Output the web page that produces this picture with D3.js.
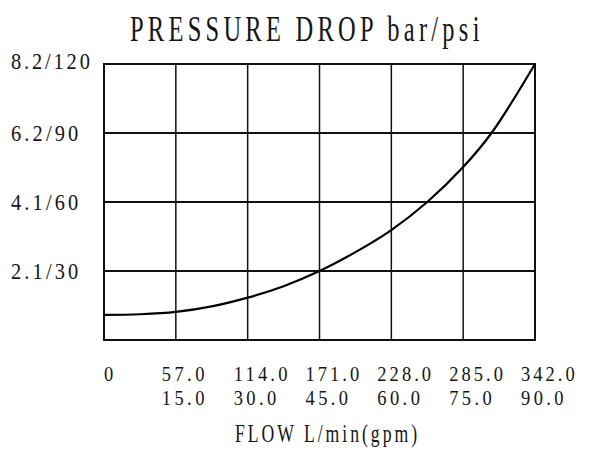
<!DOCTYPE html>
<html>
<head>
<meta charset="utf-8">
<script src="https://cdn.jsdelivr.net/npm/d3@7"></script>
<style>
  html, body { margin: 0; padding: 0; background: #fff; }
  svg { display: block; }
</style>
</head>
<body>
<script>
// ---- data ----
const flow = [0, 28.5, 57, 85.5, 114, 142.5, 171, 199.5, 228, 256.5, 285, 307.5, 342];
const pressurePsi = [10.9, 11.2, 12.2, 14.6, 18.4, 23.4, 30.0, 38.2, 47.8, 60, 75.2, 90, 120];
const xTicks = [0, 57, 114, 171, 228, 285, 342];
const xLabelsLmin = ["0", "57.0", "114.0", "171.0", "228.0", "285.0", "342.0"];
const xLabelsGpm = ["", "15.0", "30.0", "45.0", "60.0", "75.0", "90.0"];
const yTicks = [0, 30, 60, 90, 120];
const yLabels = ["", "2.1/30", "4.1/60", "6.2/90", "8.2/120"];
const titleText = "PRESSURE DROP bar/psi";
const xTitleText = "FLOW L/min(gpm)";

// ---- layout ----
const W = 602, H = 449;
const svg = d3.select("body").append("svg").attr("width", W).attr("height", H);
const x = d3.scaleLinear().domain([0, 342]).range([104, 535]);
const y = d3.scaleLinear().domain([0, 120]).range([340, 64]);

const FONT = "'Liberation Serif', 'DejaVu Serif', serif";
// monospaced-looking text: fixed cell width per character
function mono(sel, str, x0, yy, cell, size, sx) {
  const n = str.length;
  const t = sel.append("text")
    .attr("transform", `translate(${x0},${yy}) scale(${sx},1)`)
    .attr("x", 0).attr("y", 0)
    .attr("font-family", FONT)
    .attr("font-size", size)
    .attr("fill", "#151515")
    .attr("text-anchor", "start")
    .text(str);
  if (n > 1) t.attr("textLength", (n * cell - cell * 0.2) / sx).attr("lengthAdjust", "spacing");
  return t;
}

// grid
const g = svg.append("g");
g.selectAll("line.v").data(xTicks.slice(1, -1)).join("line")
  .attr("x1", d => x(d)).attr("x2", d => x(d))
  .attr("y1", y(0)).attr("y2", y(120))
  .attr("stroke", "#111").attr("stroke-width", 1.5);
g.selectAll("line.h").data(yTicks.slice(1, -1)).join("line")
  .attr("x1", x(0)).attr("x2", x(342))
  .attr("y1", d => y(d)).attr("y2", d => y(d))
  .attr("stroke", "#111").attr("stroke-width", 1.8);
g.append("rect")
  .attr("x", x(0)).attr("y", y(120))
  .attr("width", x(342) - x(0)).attr("height", y(0) - y(120))
  .attr("fill", "none").attr("stroke", "#111").attr("stroke-width", 2);

// curve
const line = d3.line().x((d, i) => x(flow[i])).y(d => y(d)).curve(d3.curveCatmullRom.alpha(0.5));
svg.append("path").datum(pressurePsi)
  .attr("d", line)
  .attr("fill", "none").attr("stroke", "#000").attr("stroke-width", 2.2);

// title
mono(svg, titleText, 130, 41, 16.8, 36, 0.68);

// y labels
yTicks.forEach((t, i) => {
  if (!yLabels[i]) return;
  const off = i === yTicks.length - 1 ? 5 : 8;
  mono(svg, yLabels[i], 11, y(t) + off, 11.6, 24, 0.85);
});

// x labels
xTicks.forEach((t, i) => {
  const x0 = t === 0 ? x(t) : x(t) - 14;
  mono(svg, xLabelsLmin[i], x0, 381, 11.2, 21, 0.88);
  if (xLabelsGpm[i]) mono(svg, xLabelsGpm[i], x0, 405, 11.2, 21, 0.88);
});

// x title
mono(svg, xTitleText, 235, 442, 12.3, 26, 0.68);
</script>
</body>
</html>
